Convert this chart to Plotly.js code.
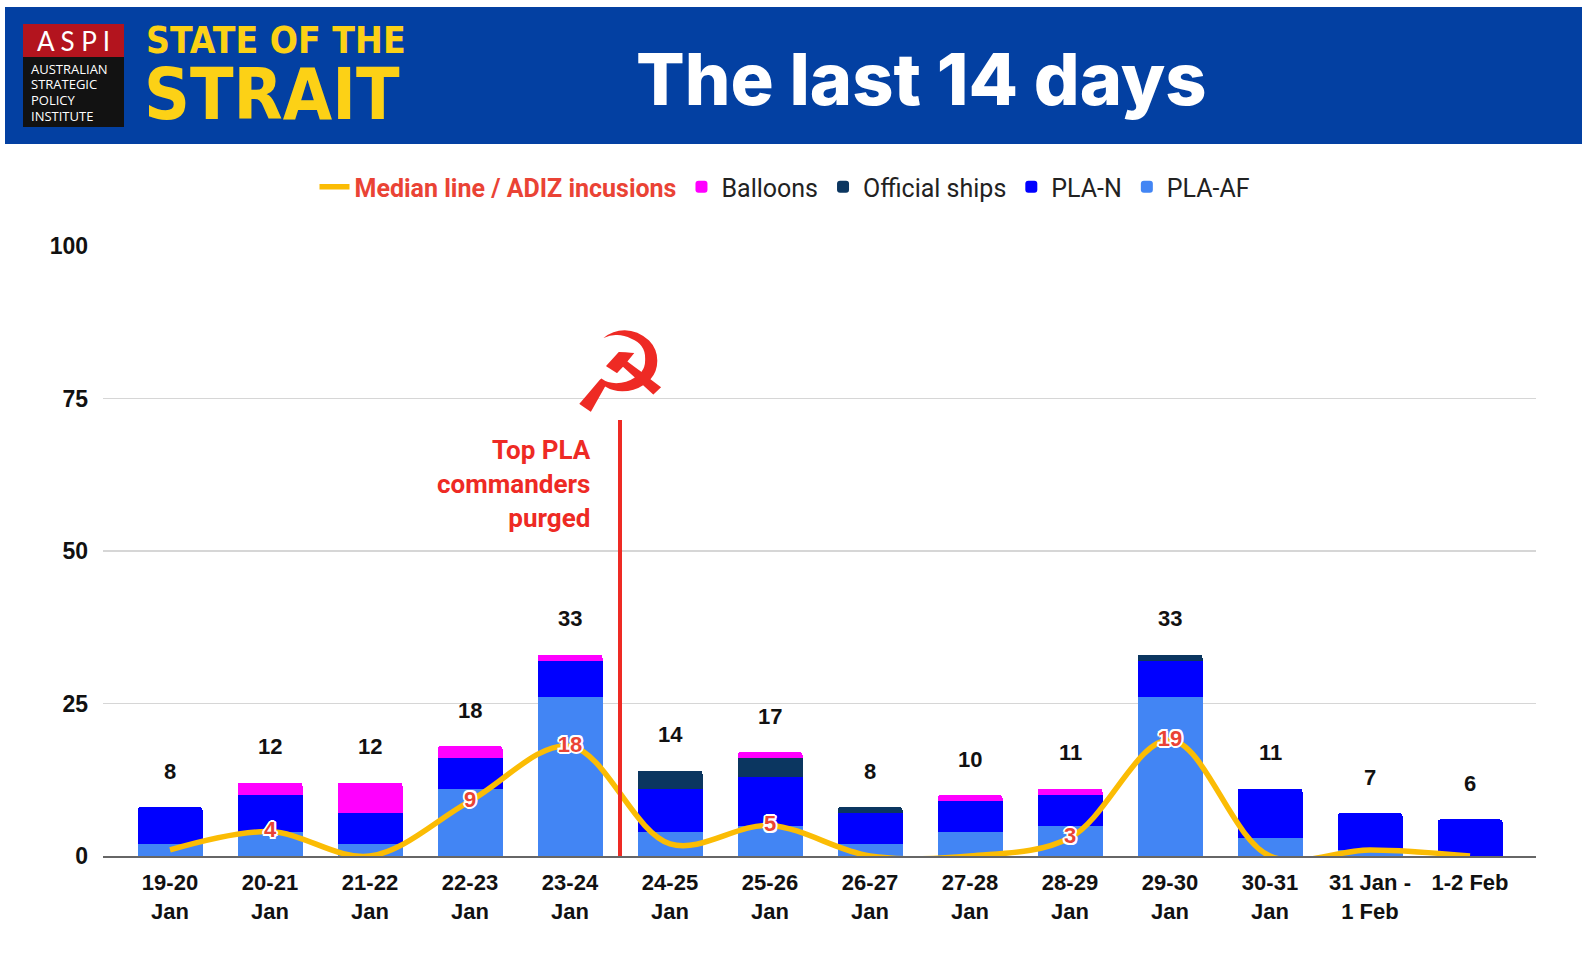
<!DOCTYPE html>
<html><head><meta charset="utf-8">
<script src="https://cdn.plot.ly/plotly-3.0.1.min.js"></script>
<style>html,body{margin:0;padding:0;background:#fff}#chart{width:1582px;height:959px}</style>
</head><body><div id="chart"></div>
<script>
// ---- data ----
const dates = ['19-20<br>Jan','20-21<br>Jan','21-22<br>Jan','22-23<br>Jan','23-24<br>Jan','24-25<br>Jan','25-26<br>Jan','26-27<br>Jan','27-28<br>Jan','28-29<br>Jan','29-30<br>Jan','30-31<br>Jan','31 Jan -<br>1 Feb','1-2 Feb'];
const plaAF    = [2, 4, 2, 11, 26, 4, 5, 2, 4, 5, 26, 3, 1, 0];
const plaN     = [6, 6, 5, 5, 6, 7, 8, 5, 5, 5, 6, 8, 6, 6];
const ships    = [0, 0, 0, 0, 0, 3, 3, 1, 0, 0, 1, 0, 0, 0];
const balloons = [0, 2, 5, 2, 1, 0, 1, 0, 1, 1, 0, 0, 0, 0];
const median   = [1, 4, 0, 9, 18, 2, 5, 0, 0, 3, 19, 0, 1, 0];
const yTicks   = [0, 25, 50, 75, 100];
const eventPos = 4.5; // between 23-24 Jan and 24-25 Jan
const eventText = 'Top PLA<br>commanders<br>purged';

// ---- layout helpers ----
const W = 1582, H = 959, L = 103, R = 46, T = 246, B = 103;
const pw = W - L - R, ph = H - T - B;
const px = x => (x - L) / pw;
const py = y => (H - B - y) / ph;

const totals = dates.map((d, i) => plaAF[i] + plaN[i] + ships[i] + balloons[i]);
const medianText = median.map(v => v >= 3 ? String(v) : '');

const RED = '#EE2A24';
const outline = '2px 0 0 #fff, -2px 0 0 #fff, 0 2px 0 #fff, 0 -2px 0 #fff, 1.5px 1.5px 0 #fff, -1.5px -1.5px 0 #fff, 1.5px -1.5px 0 #fff, -1.5px 1.5px 0 #fff';

const barBase = {type: 'bar', x: dates, hoverinfo: 'skip'};
const traces = [
  Object.assign({}, barBase, {name: 'PLA-AF', y: plaAF, marker: {color: '#4285F4'}}),
  Object.assign({}, barBase, {name: 'PLA-N', y: plaN, marker: {color: '#0000FF'}}),
  Object.assign({}, barBase, {name: 'Official ships', y: ships, marker: {color: '#0B3660'}}),
  Object.assign({}, barBase, {name: 'Balloons', y: balloons, marker: {color: '#FF00FF'}}),
  {
    type: 'scatter', mode: 'lines+text', x: dates, y: median,
    name: '<b><span style="color:#EA4335">Median line / ADIZ incusions</span></b>',
    line: {color: '#FBBC04', width: 5.5, shape: 'spline', smoothing: 1},
    text: medianText, textposition: 'middle center',
    textfont: {family: 'Liberation Sans, Arial, sans-serif', size: 22, weight: 'bold', color: '#EA4335', shadow: outline},
    cliponaxis: true, hoverinfo: 'skip'
  }
];

const annotations = [];
// totals above bars
dates.forEach((d, i) => annotations.push({
  x: d, y: totals[i], xref: 'x', yref: 'y', text: String(totals[i]), showarrow: false,
  yshift: 36, yanchor: 'middle',
  font: {family: 'Liberation Sans, Arial, sans-serif', size: 22, weight: 'bold', color: '#111'}
}));
// event label + emblem
annotations.push({
  xref: 'paper', yref: 'paper', x: px(593), y: py(484), xanchor: 'right', yanchor: 'middle',
  align: 'right', showarrow: false, text: eventText,
  font: {family: 'Roboto, sans-serif', size: 26, weight: 'bold', color: RED}
});
annotations.push({
  xref: 'x', yref: 'paper', x: eventPos, y: py(373), xanchor: 'center', yanchor: 'middle',
  showarrow: false, text: '☭',
  font: {family: 'DejaVu Sans, sans-serif', size: 112, color: RED}
});
// header texts
annotations.push({
  xref: 'paper', yref: 'paper', x: px(922), y: py(78), xanchor: 'center', yanchor: 'middle',
  showarrow: false, text: 'The last 14 days',
  font: {family: 'Inter, Lato, sans-serif', size: 72, weight: 800, color: '#ffffff'}
});
annotations.push({
  xref: 'paper', yref: 'paper', x: px(73), y: py(41), xanchor: 'center', yanchor: 'middle',
  showarrow: false, text: 'A S P I',
  font: {family: 'Lato, sans-serif', size: 26, color: '#ffffff'}
});
['AUSTRALIAN', 'STRATEGIC', 'POLICY', 'INSTITUTE'].forEach((t, i) => annotations.push({
  xref: 'paper', yref: 'paper', x: px(29), y: py(69 + i * 15.5), xanchor: 'left', yanchor: 'middle',
  showarrow: false, text: t,
  font: {family: 'Open Sans, sans-serif', size: 13, weight: 500, color: '#ffffff'}
}));
annotations.push({
  xref: 'paper', yref: 'paper', x: px(144), y: py(41), xanchor: 'left', yanchor: 'middle',
  showarrow: false, text: 'STATE OF THE',
  font: {family: 'DejaVu Sans Condensed, DejaVu Sans, sans-serif', size: 37, weight: 'bold', color: '#FCD116'}
});
annotations.push({
  xref: 'paper', yref: 'paper', x: px(142), y: py(94), xanchor: 'left', yanchor: 'middle',
  showarrow: false, text: 'STRAIT',
  font: {family: 'DejaVu Sans Condensed, DejaVu Sans, sans-serif', size: 71, weight: 'bold', color: '#FCD116'}
});

const shapes = [
  {type: 'rect', xref: 'paper', yref: 'paper', x0: px(5), x1: px(1600), y0: py(144), y1: py(7), fillcolor: '#0340A2', line: {width: 0}, layer: 'below'},
  {type: 'rect', xref: 'paper', yref: 'paper', x0: px(23), x1: px(124), y0: py(57), y1: py(24), fillcolor: '#B3141E', line: {width: 0}, layer: 'below'},
  {type: 'rect', xref: 'paper', yref: 'paper', x0: px(23), x1: px(124), y0: py(127), y1: py(57), fillcolor: '#121212', line: {width: 0}, layer: 'below'},
  {type: 'line', xref: 'x', yref: 'paper', x0: eventPos, x1: eventPos, y0: 0, y1: py(420), line: {color: RED, width: 4}}
];

const layout = {
  width: W, height: H,
  margin: {l: L, r: R, t: T, b: B, pad: 0},
  paper_bgcolor: '#ffffff', plot_bgcolor: '#ffffff',
  barmode: 'stack', bargap: 0.35, barcornerradius: 3,
  showlegend: true,
  legend: {
    orientation: 'h', x: px(785), xanchor: 'center', y: py(187), yanchor: 'middle',
    traceorder: 'reversed', font: {family: 'Roboto, sans-serif', size: 25, color: '#222'},
    itemclick: false, itemdoubleclick: false
  },
  xaxis: {
    type: 'category', range: [-0.67, 13.66], showgrid: false, zeroline: false,
    showline: true, linecolor: '#666666', linewidth: 2, ticks: '', ticklabelstandoff: 6,
    tickfont: {family: 'Liberation Sans, Arial, sans-serif', size: 22, weight: 'bold', color: '#111'},
    fixedrange: true
  },
  yaxis: {
    range: [0, 100], tickvals: yTicks, ticktext: yTicks.map(String),
    showgrid: true, gridcolor: '#d6d6d6', gridwidth: 1.5, zeroline: false, showline: false,
    ticks: '', ticklabelstandoff: 14,
    tickfont: {family: 'Liberation Sans, Arial, sans-serif', size: 23, weight: 'bold', color: '#111'},
    fixedrange: true
  },
  shapes: shapes,
  annotations: annotations
};

Plotly.newPlot('chart', traces, layout, {displayModeBar: false, staticPlot: true});
</script>
</body></html>
